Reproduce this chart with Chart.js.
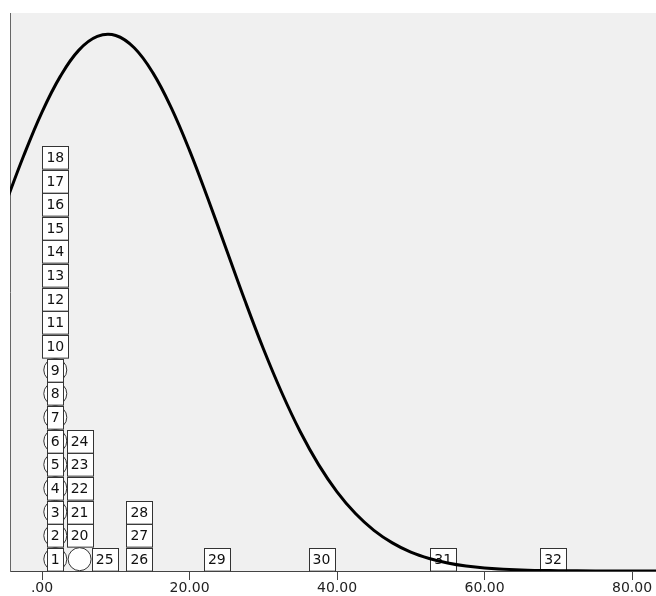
<!DOCTYPE html>
<html>
<head>
<meta charset="utf-8">
<script src="https://cdn.jsdelivr.net/npm/chart.js@4.4.1/dist/chart.umd.min.js"></script>
<style>
  html, body { margin: 0; padding: 0; background: #fff; overflow: hidden; }
  #chart { display: block; }
</style>
</head>
<body>
<canvas id="chart" width="656" height="596"></canvas>
<script>
// case labels, value on x and stack level (1 = bottom)
const caseLabels = ["1","2","3","4","5","6","7","8","9","10","11","12","13","14","15","16",
  "17","18","19","20","21","22","23","24","25","26","27","28","29","30","31","32"];
const caseValues = [1.8,1.8,1.8,1.8,1.8,1.8,1.8,1.8,1.8,1.8,1.8,1.8,1.8,1.8,1.8,1.8,
  1.8,1.8,5.1,5.1,5.1,5.1,5.1,5.1,8.5,13.2,13.2,13.2,23.7,37.9,54.4,69.3];
const stackLevels = [1,2,3,4,5,6,7,8,9,10,11,12,13,14,15,16,
  17,18,1,2,3,4,5,6,1,1,2,3,1,1,1,1];
const circleCases = ["1","2","3","4","5","6","7","8","9","19"];
const unlabelledCases = ["19"];

// normal curve, heights (in stack levels)
const curveX = [-5,-2.5,0,2.5,5,7.5,10,12.5,15,17.5,20,22.5,25,27.5,30,32.5,35,37.5,
  40,42.5,45,47.5,50,52.5,55,57.5,60,65,70,75,80,85];
const curveY = [15.49,17.55,19.41,20.93,22.03,22.61,22.65,22.13,21.09,19.61,17.79,15.74,
  13.60,11.45,9.41,7.55,5.90,4.50,3.35,2.43,1.72,1.19,0.80,0.53,0.34,0.21,0.13,0.045,
  0.014,0.004,0.001,0];

const xTicks = [0, 20, 40, 60, 80];

const circlePoints = caseLabels
  .map((lab, i) => ({ x: caseValues[i], y: stackLevels[i] - 0.5, lab }))
  .filter((p) => circleCases.includes(p.lab));

const curvePoints = curveX.map((x, i) => ({ x, y: curveY[i] }));

// grey plot area
const plotBackground = {
  id: "plotBackground",
  beforeDraw(chart) {
    const { ctx, chartArea: a } = chart;
    ctx.save();
    ctx.fillStyle = "#f0f0f0";
    ctx.fillRect(a.left, a.top, a.right - a.left, a.bottom - a.top);
    ctx.restore();
  },
};

// numbered boxes, drawn after the circles but under the curve
const caseBoxes = {
  id: "caseBoxes",
  afterDatasetDraw(chart, args) {
    if (args.index !== 1) return;
    const { ctx, scales } = chart;
    const step = Math.abs(scales.y.getPixelForValue(1) - scales.y.getPixelForValue(0));
    ctx.save();
    ctx.font = "14px 'DejaVu Sans'";
    ctx.textAlign = "center";
    ctx.textBaseline = "middle";
    caseLabels.forEach((lab, i) => {
      if (unlabelledCases.includes(lab)) return;
      const cx = scales.x.getPixelForValue(caseValues[i]);
      const cy = scales.y.getPixelForValue(stackLevels[i] - 0.5);
      const w = lab.length === 1 ? 16 : 26;
      const h = step - 1;
      const left = Math.round(cx - w / 2) + 0.5;
      const top = Math.round(cy - h / 2) + 0.5;
      ctx.fillStyle = "#fff";
      ctx.fillRect(left, top, w, h);
      ctx.strokeStyle = "#333";
      ctx.lineWidth = 1;
      ctx.strokeRect(left, top, w, h);
      ctx.fillStyle = "#111";
      ctx.fillText(lab, cx, cy + 1);
    });
    ctx.restore();
  },
};

new Chart(document.getElementById("chart"), {
  type: "scatter",
  data: {
    datasets: [
      {
        type: "line",
        data: curvePoints,
        borderColor: "#000",
        borderWidth: 3,
        pointRadius: 0,
        tension: 0.4,
        fill: false,
      },
      {
        data: circlePoints,
        pointStyle: "circle",
        pointRadius: 11.5,
        pointBackgroundColor: "#fff",
        pointBorderColor: "#333",
        pointBorderWidth: 1,
      },
    ],
  },
  options: {
    responsive: false,
    animation: false,
    devicePixelRatio: 1,
    layout: { autoPadding: false, padding: { top: 13, left: 10, right: 0, bottom: 0 } },
    plugins: { legend: { display: false }, tooltip: { enabled: false } },
    scales: {
      x: {
        type: "linear",
        min: -4.34,
        max: 83.25,
        afterBuildTicks: (scale) => {
          scale.ticks = xTicks.map((v) => ({ value: v }));
        },
        afterFit: (scale) => {
          scale.paddingLeft = 0;
          scale.paddingRight = 0;
        },
        ticks: {
          padding: 1,
          color: "#222",
          font: { family: "'DejaVu Sans'", size: 14, lineHeight: 1 },
          callback: (v) => (v === 0 ? ".00" : v.toFixed(2)),
        },
        grid: {
          display: true,
          drawOnChartArea: false,
          drawTicks: true,
          tickLength: 9,
          color: "#444",
        },
        border: { display: true, color: "#444", width: 1 },
      },
      y: {
        type: "linear",
        min: 0,
        max: 23.6,
        ticks: { display: false },
        grid: { display: false, drawTicks: false },
        border: { display: true, color: "#666", width: 1 },
      },
    },
  },
  plugins: [plotBackground, caseBoxes],
});
</script>
</body>
</html>
